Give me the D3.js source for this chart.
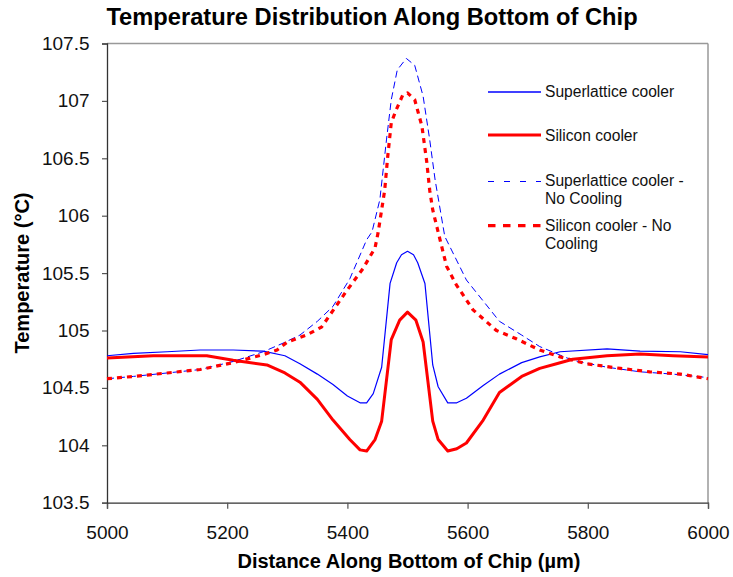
<!DOCTYPE html>
<html><head><meta charset="utf-8">
<script src="https://cdn.jsdelivr.net/npm/d3@7"></script>
<style>body{margin:0;background:#fff;} svg{display:block;font-family:"Liberation Sans",Arial,sans-serif;}</style>
</head><body><svg id="c" width="733" height="577"></svg>
<script>
const xTicks = [5000,5200,5400,5600,5800,6000];
const yTicks = [103.5,104,104.5,105,105.5,106,106.5,107,107.5];
const seriesNames = ["Superlattice cooler","Silicon cooler","Superlattice cooler - No Cooling","Silicon cooler - No Cooling"];

const slX = [5000,5044,5100,5155,5210,5260,5296,5321,5350,5376,5400,5421,5432,5443,5457,5471,5482,5490,5500,5510,5517,5529,5542,5551,5567,5582,5598,5626,5653,5690,5720,5754,5832,5887,5954,6000];
const slY = [104.78,104.80,104.815,104.83,104.83,104.82,104.78,104.71,104.62,104.53,104.43,104.37,104.37,104.45,104.68,105.41,105.59,105.66,105.69,105.66,105.59,105.41,104.70,104.51,104.37,104.37,104.41,104.52,104.62,104.72,104.77,104.815,104.84,104.82,104.815,104.79];

const siX = [5000,5077,5166,5210,5266,5296,5321,5350,5376,5404,5421,5432,5446,5457,5473,5487,5500,5514,5526,5542,5551,5567,5582,5598,5626,5653,5690,5720,5748,5775,5832,5887,5942,6000];
const siY = [104.76,104.78,104.78,104.74,104.70,104.63,104.55,104.40,104.22,104.05,103.96,103.95,104.05,104.21,104.92,105.09,105.16,105.09,104.90,104.21,104.05,103.95,103.97,104.02,104.22,104.46,104.60,104.67,104.71,104.75,104.78,104.795,104.78,104.77];

const slncX = [5000,5044,5100,5155,5210,5260,5293,5321,5350,5376,5404,5432,5441,5454,5465,5473,5483,5498,5512,5526,5537,5546,5562,5598,5653,5690,5720,5775,5832,5887,5942,6000];
const slncY = [104.58,104.60,104.63,104.66,104.73,104.815,104.89,104.96,105.08,105.21,105.45,105.79,105.86,106.14,106.66,107.01,107.27,107.37,107.31,107.04,106.66,106.31,105.82,105.44,105.08,104.96,104.86,104.74,104.68,104.64,104.62,104.59];

const sincX = [5000,5044,5100,5155,5210,5260,5283,5300,5332,5357,5398,5426,5446,5451,5462,5467,5473,5481,5492,5500,5512,5524,5532,5537,5542,5549,5565,5581,5609,5648,5680,5720,5754,5798,5854,5903,5954,6000];
const sincY = [104.58,104.60,104.63,104.66,104.72,104.79,104.83,104.90,104.96,105.03,105.34,105.54,105.72,105.85,106.22,106.51,106.81,106.92,107.05,107.07,107.01,106.78,106.47,106.22,106.05,105.90,105.56,105.40,105.18,105.00,104.93,104.83,104.77,104.71,104.67,104.64,104.62,104.58];

const svg = d3.select("#c");
const L=107, R=708, T=43.5, B=502.7;
const x = d3.scaleLinear().domain([5000,6000]).range([L,R]);
const y = d3.scaleLinear().domain([103.5,107.5]).range([B,T]);

svg.append("line").attr("x1",L).attr("x2",R).attr("y1",T).attr("y2",T).attr("stroke","#999").attr("stroke-width",1.5);
svg.append("line").attr("x1",R).attr("x2",R).attr("y1",T).attr("y2",B).attr("stroke","#999").attr("stroke-width",1.5);

const gx = svg.append("g").attr("transform",`translate(0,${B})`)
  .call(d3.axisBottom(x).tickValues(xTicks).tickSize(6).tickFormat(d3.format("d")));
gx.selectAll(".tick text").attr("y",36.3).attr("dy",null);
const gy = svg.append("g").attr("transform",`translate(${L},0)`)
  .call(d3.axisLeft(y).tickValues(yTicks).tickSize(5).tickPadding(12.5).tickFormat(d=>String(d)));
[gx,gy].forEach(g=>{
  g.select(".domain").attr("stroke","#333").attr("stroke-width",1.3);
  g.selectAll(".tick line").attr("stroke","#555").attr("stroke-width",1.2);
  g.selectAll(".tick text").attr("font-size",19).attr("fill","#111").attr("font-family","Liberation Sans, Arial, sans-serif");
});

const line = d3.line().x(d=>x(d[0])).y(d=>y(d[1]));
const series = [
  {name:seriesNames[0], xs:slX, ys:slY, color:"#0000ff", w:1.2, dash:null, ldash:null},
  {name:seriesNames[1], xs:siX, ys:siY, color:"#ff0000", w:3, dash:null, ldash:null},
  {name:seriesNames[2], xs:slncX, ys:slncY, color:"#0000ff", w:1, dash:"7,4", ldash:"6,10"},
  {name:seriesNames[3], xs:sincX, ys:sincY, color:"#ff0000", w:3.2, dash:"5,5", ldash:"7.5,7.5"}
];
const plot = svg.append("g");
series.forEach(s=>{
  plot.append("path").datum(s.xs.map((v,i)=>[v,s.ys[i]]))
    .attr("d",line).attr("fill","none").attr("stroke",s.color)
    .attr("stroke-width",s.w).attr("stroke-dasharray",s.dash).attr("stroke-linejoin","round");
});

const leg = [
  {s:series[0], ly:92, ty:[96.7], lines:["Superlattice cooler"]},
  {s:series[1], ly:135, ty:[141], lines:["Silicon cooler"]},
  {s:series[2], ly:181.5, ty:[186,203.5], lines:["Superlattice cooler -","No Cooling"]},
  {s:series[3], ly:225.7, ty:[230.7,249], lines:["Silicon cooler - No","Cooling"]}
];
leg.forEach(l=>{
  svg.append("line").attr("x1",488).attr("x2",541).attr("y1",l.ly).attr("y2",l.ly)
    .attr("stroke",l.s.color).attr("stroke-width",l.s.w===1.2?1.5:l.s.w).attr("stroke-dasharray",l.s.ldash);
  l.lines.forEach((t,i)=>{
    svg.append("text").attr("x",545).attr("y",l.ty[i]).attr("font-size",15.6).attr("fill","#111").text(t);
  });
});

svg.append("text").attr("transform","translate(372,25) scale(1.03,1)").attr("text-anchor","middle").attr("font-size",23).attr("font-weight","bold").attr("fill","#000")
  .text("Temperature Distribution Along Bottom of Chip");
svg.append("text").attr("x",409).attr("y",568).attr("text-anchor","middle").attr("font-size",20).attr("font-weight","bold").attr("fill","#000")
  .text("Distance Along Bottom of Chip (µm)");
svg.append("text").attr("transform","translate(29,273) rotate(-90)").attr("text-anchor","middle").attr("font-size",20).attr("font-weight","bold").attr("fill","#000")
  .text("Temperature (°C)");
</script></body></html>
